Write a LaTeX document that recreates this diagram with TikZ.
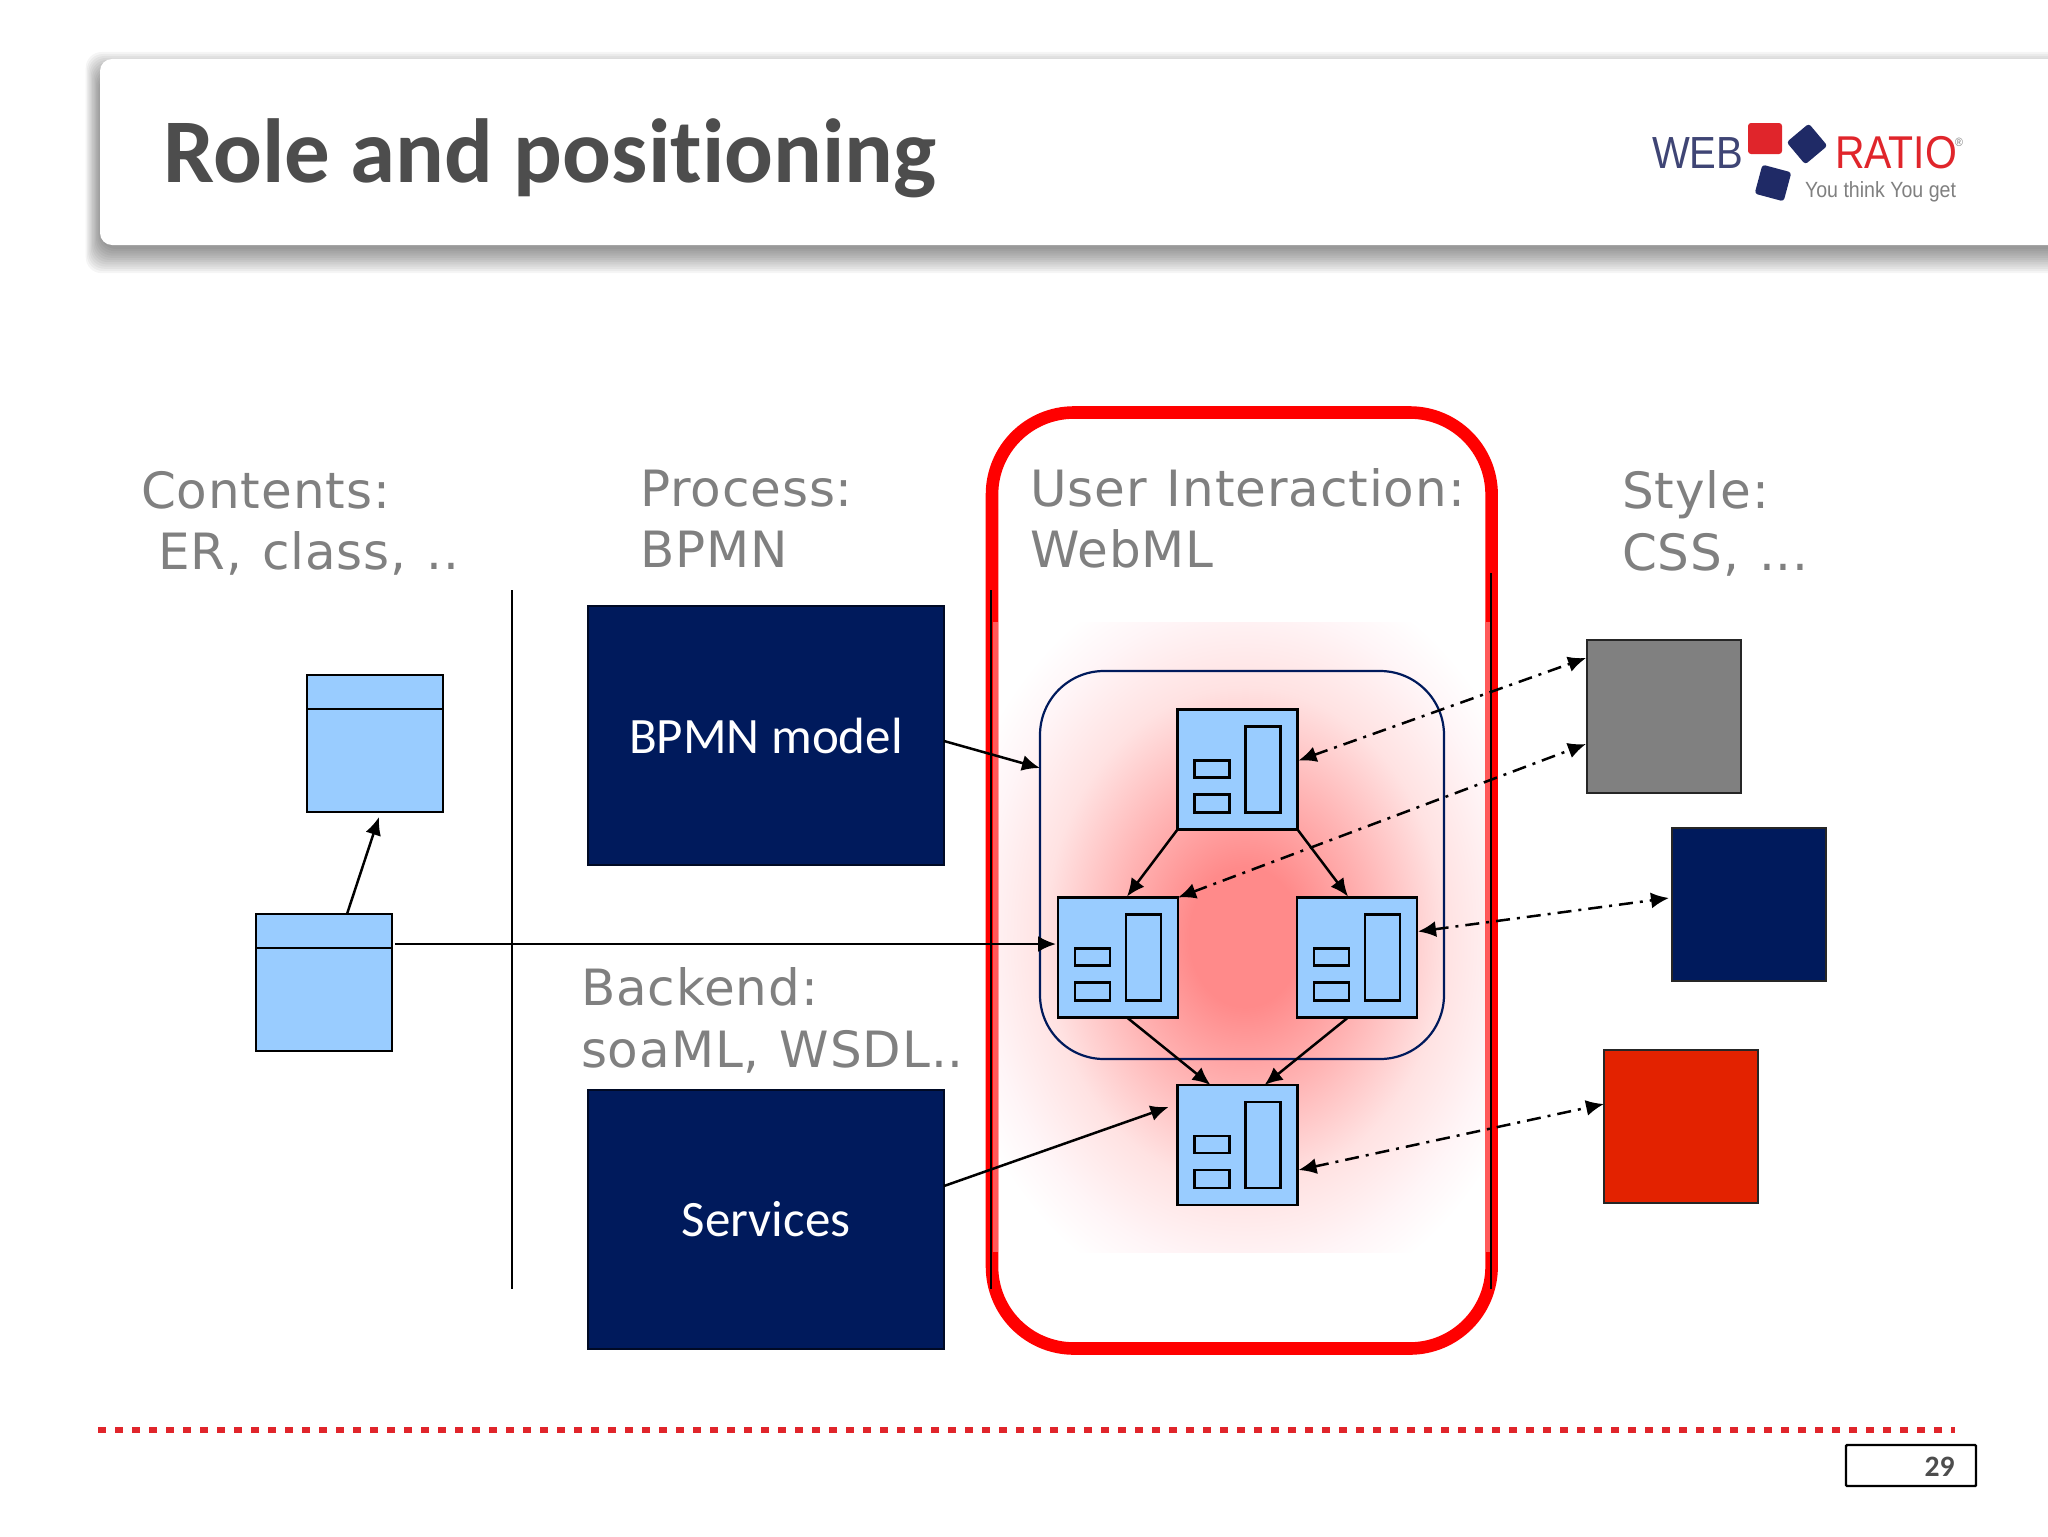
\documentclass[tikz,border=0pt]{standalone}
\usepackage{fontspec}
\setmainfont[Ligatures=NoCommon]{Carlito}
\newfontfamily\grayfont[FakeStretch=1.0,LetterSpace=1.8,WordSpace=1.2]{DejaVu Sans}
\newfontfamily\logofont[FakeStretch=0.89]{Liberation Sans}
\usetikzlibrary{arrows.meta,calc}
\definecolor{navy}{HTML}{001A5C}
\definecolor{lblue}{HTML}{99CCFF}
\definecolor{gtext}{HTML}{808080}
\definecolor{titlec}{HTML}{4D4D4D}
\definecolor{logoblue}{HTML}{1F2A66}
\definecolor{logoweb}{HTML}{3F4575}
\definecolor{logored}{HTML}{E0252B}
\definecolor{glowc}{HTML}{FF8A8A}
\definecolor{glowb}{HTML}{FFB5B5}
\definecolor{glowd}{HTML}{FFE2E2}
\definecolor{glowe}{HTML}{FFF5F7}
\definecolor{redsq}{HTML}{E32200}
\pgfdeclareradialshading{glow}{\pgfpoint{0bp}{0bp}}{color(0bp)=(glowc); color(3.5bp)=(glowc); color(8bp)=(glowb); color(12.5bp)=(glowd); color(16.5bp)=(glowe); color(19bp)=(white); color(50bp)=(white)}
\newcommand{\pageinner}[1]{%
  \draw[innerbox] ($(#1.north west)+(68,17)$) rectangle ($(#1.north west)+(103,103)$);
  \draw[innerbox] ($(#1.north west)+(17,51)$) rectangle ($(#1.north west)+(52,68)$);
  \draw[innerbox] ($(#1.north west)+(17,85)$) rectangle ($(#1.north west)+(52,103)$);
}
\tikzset{
  x=0.5pt,y=-0.5pt,
  page/.style={draw=black,fill=lblue,line width=1.25pt,minimum width=60pt,minimum height=60pt,inner sep=0pt,outer sep=0pt},
  innerbox/.style={draw=black,line width=1.1pt},
  entity/.style={draw=black,fill=lblue,line width=1.1pt,minimum width=68pt,minimum height=68.5pt,inner sep=0pt,outer sep=0pt},
  navybox/.style={draw=black!60!navy,fill=navy,line width=.6pt,minimum width=178pt,minimum height=129.5pt,inner sep=0pt,outer sep=0pt,text=white,font=\fontsize{25.5}{30}\selectfont},
  stylebox/.style={draw=black!85,line width=1.1pt,minimum width=77pt,minimum height=76.5pt,inner sep=0pt,outer sep=0pt},
  gray label/.style={anchor=base west,inner sep=0pt,outer sep=0pt,text=gtext,font=\grayfont\fontsize{25}{30}\selectfont},
  conn/.style={draw=black,line width=1.25pt,-{Latex[length=9pt,width=8pt]}},
  dd/.style={draw=black,line width=1.25pt,{Latex[length=9pt,width=8pt]}-{Latex[length=9pt,width=8pt]},dash pattern=on 7pt off 3.5pt on 1.5pt off 3.5pt},
  logotxt/.style={anchor=base west,inner sep=0pt,outer sep=0pt},
}
\begin{document}
\begin{tikzpicture}
\useasboundingbox (0,0) rectangle (2048,1536);
\fill[white] (0,0) rectangle (2048,1536);
% header shadow
\foreach \i in {0,...,11}{
  \fill[black,opacity=.04,rounded corners=8pt] (100-1.3*\i,74-2*\i) rectangle (2100,249+2.2*\i);
}
\node[draw=none,fill=white,rounded corners=6pt,minimum width=1000pt,minimum height=93pt,inner sep=0pt,outer sep=0pt,anchor=north west] (header) at (100,59) {};
\node[anchor=base west,inner sep=0pt,text=titlec,font=\bfseries\fontsize{45.5}{50}\selectfont] (title) at (163,182) {Role and positioning};
% logo
\node[logotxt,text=logoweb,font=\logofont\fontsize{22.5}{24}\selectfont] (lweb) at (1652,168) {WEB};
\node[logotxt,text=logored,font=\logofont\fontsize{23}{24}\selectfont] (lratio) at (1835,168) {RATIO};
\node[logotxt,text=gtext,font=\logofont\fontsize{6}{7}\selectfont] (lreg) at (1955,146) {®};
\node[logotxt,text=gtext,font=\logofont\fontsize{11}{12}\selectfont] (lslog) at (1805,197) {You think You get};
\node[fill=logored,rounded corners=1.5pt,minimum width=17pt,minimum height=15.5pt,inner sep=0pt] (lsq1) at (1765,138.5) {};
\node[fill=logoblue,rounded corners=1.5pt,minimum size=14.5pt,inner sep=0pt,rotate=40] (lsq2) at (1807,144) {};
\node[fill=logoblue,rounded corners=1.5pt,minimum size=15pt,inner sep=0pt,rotate=-15] (lsq3) at (1773,183) {};
% glow
\begin{scope}
\clip (993,622) rectangle (1491,1252);
\shade[shading=glow] (1245,937) ellipse [x radius=400,y radius=500];
\end{scope}
% red frame
\node[draw=red,line width=6.3pt,rounded corners=41pt,minimum width=249.8pt,minimum height=468pt,inner sep=0pt,outer sep=0pt] (frame) at (1241.8,880.5) {};
\fill[white,opacity=.35] (993,622) rectangle (998,1252);
\fill[white,opacity=.35] (1485.5,622) rectangle (1491,1252);
\coordinate (fl1) at (991,590); \coordinate (fl2) at (991,1289);
\coordinate (fr1) at (1491,573); \coordinate (fr2) at (1491,1289);
\draw[black,line width=1.2pt] (fl1) -- (fl2);
\draw[black,line width=1.2pt] (fr1) -- (fr2);
% labels
\node[gray label] (t1a) at (141,508) {Contents:};
\node[gray label] (t1b) at (158,569) {ER, class, ..};
\node[gray label] (t2a) at (640,506) {Process:};
\node[gray label] (t2b) at (640,567) {BPMN};
\node[gray label] (t3a) at (1030,506) {User Interaction:};
\node[gray label] (t3b) at (1030,567) {WebML};
\node[gray label] (t4a) at (581,1005.5) {Backend:};
\node[gray label] (t4b) at (581,1067.5) {soaML, WSDL..};
\node[gray label] (t5a) at (1622,508) {Style:};
\node[gray label] (t5b) at (1622,570) {CSS, ...};
% left
\coordinate (vt) at (512,590); \coordinate (vb) at (512,1289);
\draw[black,line width=1.2pt] (vt) -- (vb);
\node[entity,anchor=north west] (e1) at (307,675) {};
\node[entity,anchor=north west] (e2) at (256,914) {};
\draw[black,line width=1.1pt] ($(e1.north west)+(0,34)$) -- ($(e1.north east)+(0,34)$);
\draw[black,line width=1.1pt] ($(e2.north west)+(0,34)$) -- ($(e2.north east)+(0,34)$);
% navy boxes
\node[navybox,anchor=north west] (bpmn) at (588,606) {BPMN model};
\node[navybox,anchor=north west] (serv) at (588,1090) {Services};
% group
\node[draw=navy,line width=1.1pt,rounded corners=32pt,minimum width=202pt,minimum height=194pt,inner sep=0pt,outer sep=0pt,anchor=north west] (group) at (1040,671) {};
% pages
\node[page,anchor=north west] (pt) at (1177.5,709.5) {};
\node[page,anchor=north west] (pl) at (1058,897.5) {};
\node[page,anchor=north west] (pr) at (1297,897.5) {};
\node[page,anchor=north west] (pb) at (1177.5,1085) {};
\pageinner{pt}\pageinner{pl}\pageinner{pr}\pageinner{pb}
% style squares
\node[stylebox,fill=gtext,anchor=north west] (sg) at (1587,640) {};
\node[stylebox,fill=navy,anchor=north west] (sn) at (1672,828) {};
\node[stylebox,fill=redsq,anchor=north west] (sr) at (1604,1050) {};
% connectors
\draw[conn] ($(e2.north west)+(91,0)$) -- ($(e1.south west)+(72,5)$);
\draw[conn] ($(e2.north east)+(3,30)$) -- ($(pl.north west)+(-2,46.5)$);
\draw[conn] ($(bpmn.north east)+(0,135)$) -- ($(group.north west)+(0,97)$);
\draw[conn] ($(serv.north east)+(0,96)$) -- ($(pb.north west)+(-9,22)$);
\draw[conn] (pt.south west) -- ($(pl.north)+(9,-1)$);
\draw[conn] (pt.south east) -- ($(pr.north)+(-9,-1)$);
\draw[conn] ($(pl.south)+(9,0)$) -- ($(pb.north)+(-27,0)$);
\draw[conn] ($(pr.south)+(-9,0)$) -- ($(pb.north)+(27,0)$);
\draw[dd] ($(pt.north east)+(1,51)$) -- ($(sg.north west)+(-1,18)$);
\draw[dd] (pl.north east) -- ($(sg.north west)+(-1,104)$);
\draw[dd] ($(pr.north east)+(1,34)$) -- ($(sn.north west)+(-3,70)$);
\draw[dd] ($(pb.north east)+(1,85)$) -- ($(sr.north west)+(0,54)$);
% footer
\coordinate (fa) at (98,1429.5); \coordinate (fb) at (1955,1429.5);
\draw[draw=logored,line width=3pt,dash pattern=on 4pt off 4.5pt] (fa) -- (fb);
\node[draw=black,line width=1.2pt,rounded corners=.5pt,minimum width=65pt,minimum height=20.5pt,inner sep=0pt,outer sep=0pt,anchor=north west] (pnum) at (1846,1445) {};
\node[anchor=center,inner sep=0pt,text=titlec,font=\bfseries\fontsize{14.8}{16}\selectfont] (pnumt) at (1939.5,1467) {29};
\end{tikzpicture}
\end{document}
